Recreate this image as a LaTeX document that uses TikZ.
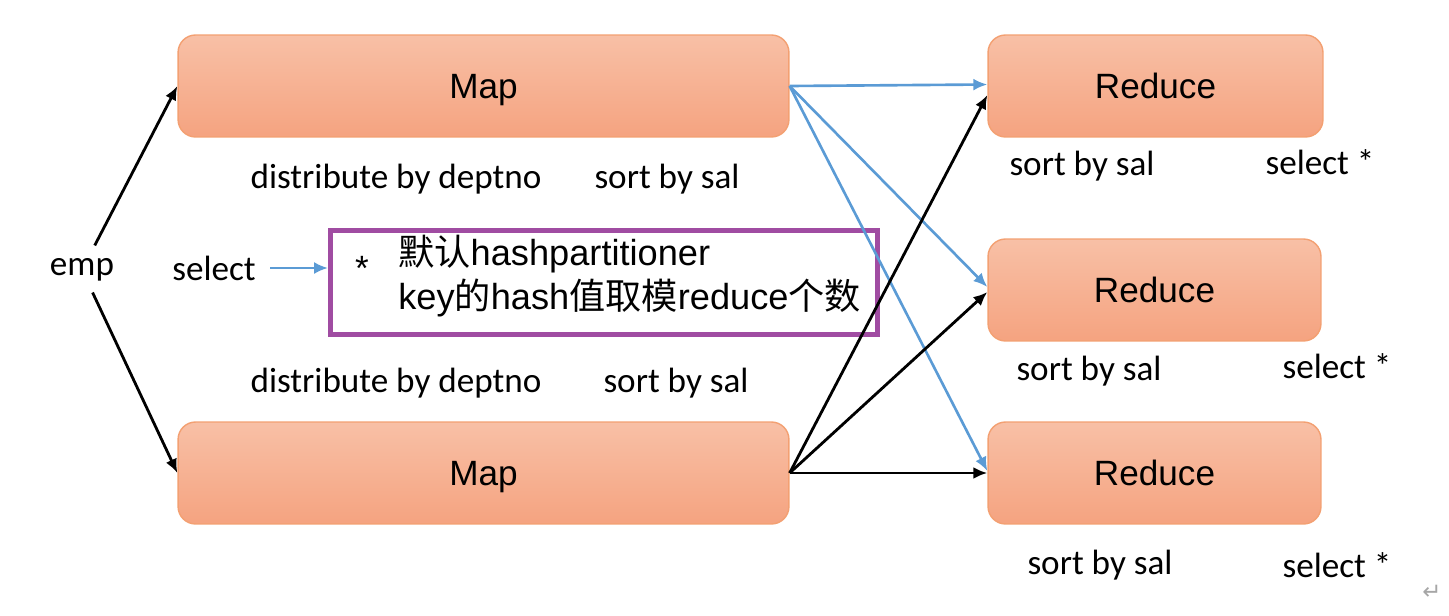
\documentclass[tikz,border=0pt]{standalone}
\usepackage{fontspec}
\setmainfont{Carlito}
\newfontfamily\arial{Liberation Sans}
\newfontfamily\cjk{Noto Sans CJK SC}
\newfontfamily\symfont{DejaVu Sans}
\usetikzlibrary{arrows.meta, positioning}
\definecolor{mapfilltop}{HTML}{F8C0A6}
\definecolor{mapfillbot}{HTML}{F5A380}
\definecolor{mapborder}{HTML}{F3A072}
\definecolor{flowblue}{HTML}{5B9BD5}
\definecolor{notepurple}{HTML}{A04CA2}
\tikzset{
  block/.style={rectangle, draw=mapborder, line width=0.8pt, rounded corners=3.5mm,
                top color=mapfilltop, bottom color=mapfillbot, inner sep=0pt,
                text depth=0pt, minimum height=2.04cm,
                font=\arial\fontsize{20}{24}\selectfont},
  mapblock/.style={block, minimum width=12.22cm},
  reduceblock/.style={block, minimum width=6.66cm},
  lbl/.style={inner sep=1pt, font=\fontsize{20}{24}\selectfont},
  arrow/.style={-{Latex[length=2.8mm, width=2.4mm]}, line width=1.6pt},
  bluearrow/.style={arrow, draw=flowblue, line width=1.5pt}
}

\begin{document}
\begin{tikzpicture}[x=0.02cm, y=-0.02cm]
\useasboundingbox (0,0) rectangle (1449,615);

% Map blocks
\node[mapblock] (Map1) at (483.5,86) {Map};
\node[mapblock] (Map2) at (483.5,473) {Map};

% Reduce blocks
\node[reduceblock, minimum width=6.7cm] (Reduce1) at (1155.5,86) {Reduce};
\node[reduceblock] (Reduce2) at (1154.5,290) {Reduce};
\node[reduceblock] (Reduce3) at (1154.5,473) {Reduce};

% Input and note box
\node[lbl] (emp) at (82,270) {emp};
\node[lbl] (select) at (214,268) {select};
\node[draw=notepurple, line width=2.8pt, minimum width=10.94cm, minimum height=2.08cm] (Note) at (604,282.5) {};
\node[inner sep=0pt, font=\arial\fontsize{20}{20}\selectfont] (Star) at (362,268) {*};
\node[anchor=west, inner sep=0pt, align=left, font=\arial\fontsize{20.6}{25}\selectfont] (NoteText) at (398,276)
  {{\cjk 默认}hashpartitioner\\key{\cjk 的}hash{\cjk 值取模}reduce{\cjk 个数}};

% Map labels
\node[lbl] (MapDist1) at (396,179) {distribute by deptno};
\node[lbl] (MapSort1) at (667,179) {sort by sal};
\node[lbl] (MapDist2) at (396,383) {distribute by deptno};
\node[lbl] (MapSort2) at (676,383) {sort by sal};

% Reduce labels
\node[lbl] (RedSort1) at (1082,166) {sort by sal};
\node[lbl] (RedSel1) at (1320,162) {select *};
\node[lbl] (RedSort2) at (1089,371) {sort by sal};
\node[lbl] (RedSel2) at (1337,366) {select *};
\node[lbl] (RedSort3) at (1100,565) {sort by sal};
\node[lbl] (RedSel3) at (1337,565) {select *};

\node[text=gray!70, font=\symfont\fontsize{13}{13}\selectfont] (Return) at (1432,592) {↵};

% --- Connections ---
% emp -> Map
\draw[arrow, shorten <=2.5mm] (emp) -- (Map1.west);
\draw[arrow, shorten <=2mm] (emp) -- (Map2.west);

% select -> Note
\draw[bluearrow, shorten <=2.5mm] (select.east) -- (select.east -| Note.west);

% Map1 -> Reduce
\draw[bluearrow] (Map1.east) -- ([yshift=0.03cm]Reduce1.west);
\draw[bluearrow] (Map1.east) -- ([yshift=0.06cm]Reduce2.west);
\draw[bluearrow] (Map1.east) -- ([yshift=0.04cm]Reduce3.west);

% Map2 -> Reduce
\draw[arrow] (Map2.east) -- ([yshift=-0.18cm]Reduce1.west);
\draw[arrow] (Map2.east) -- ([yshift=-0.04cm]Reduce2.west);
\draw[arrow] (Map2.east) -- (Reduce3.west);

\end{tikzpicture}
\end{document}
